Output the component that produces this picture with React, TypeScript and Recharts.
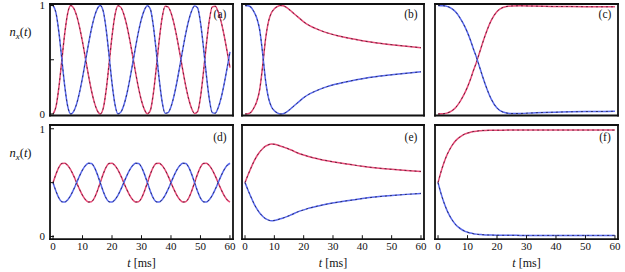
import React from 'react';
import { LineChart, Line, XAxis, YAxis } from 'recharts';

// ---- data ----
const T_OSC = [0,1,2,3,4,5,6,7,8,9,10,11,12,13,14,15,16,17,18,19,20,21,22,23,24,25,26,27,28,29,30,31,32,33,34,35,36,37,38,39,40,41,42,43,44,45,46,47,48,49,50,51,52,53,54,55,56,57,58,59,60];
const T_SMOOTH = [0,1,2,3,4,5,6,7,8,9,10,11,12,13,14,15,16,18,20,22,25,28,32,36,40,45,50,55,60];

const RED_A = [0,.067,.25,.5,.75,.933,1,.976,.907,.799,.664,.511,.359,.219,.107,.031,0,.049,.217,.461,.716,.912,.999,.983,.92,.818,.685,.535,.381,.239,.122,.04,.002,.033,.185,.422,.679,.888,.994,.988,.933,.835,.706,.558,.404,.259,.138,.05,.005,.021,.156,.383,.642,.862,.987,.993,.943,.852,.727,.581,.427];
const BLUE_A = [1,.933,.75,.5,.25,.067,0,.024,.093,.201,.336,.489,.641,.781,.893,.969,1,.951,.783,.539,.284,.088,.001,.017,.08,.182,.315,.465,.619,.761,.878,.96,.998,.967,.815,.578,.321,.112,.006,.012,.067,.165,.294,.442,.596,.741,.862,.95,.995,.979,.844,.617,.358,.138,.013,.007,.057,.148,.273,.419,.573];

const RED_B = [0,.003,.015,.055,.115,.225,.44,.69,.852,.933,.97,.99,1.0,.997,.985,.965,.942,.895,.85,.815,.778,.748,.719,.695,.675,.655,.639,.625,.611];
const BLUE_B = [1.0,.997,.985,.945,.885,.775,.56,.31,.148,.067,.03,.01,0,.003,.015,.035,.058,.105,.15,.185,.222,.252,.281,.305,.325,.345,.361,.375,.389];

const RED_C = [0,.001,.003,.008,.018,.035,.06,.095,.14,.19,.25,.32,.40,.475,.56,.645,.725,.86,.945,.982,.996,.997,.995,.993,.991,.99,.989,.988,.988];
const BLUE_C = [1.0,.999,.997,.992,.982,.965,.94,.905,.86,.81,.75,.68,.60,.525,.44,.355,.275,.14,.055,.018,.004,.005,.01,.014,.017,.02,.022,.023,.025];

const RED_D = [.5,.579,.643,.678,.68,.658,.618,.563,.5,.437,.382,.342,.32,.322,.357,.421,.5,.579,.643,.678,.68,.658,.618,.563,.5,.437,.382,.342,.32,.322,.357,.421,.5,.579,.643,.678,.68,.658,.618,.563,.5,.437,.382,.342,.32,.322,.357,.421,.5,.579,.643,.678,.68,.658,.618,.563,.5,.437,.382,.342,.32];
const BLUE_D = [.5,.421,.357,.322,.32,.342,.382,.437,.5,.563,.618,.658,.68,.678,.643,.579,.5,.421,.357,.322,.32,.342,.382,.437,.5,.563,.618,.658,.68,.678,.643,.579,.5,.421,.357,.322,.32,.342,.382,.437,.5,.563,.618,.658,.68,.678,.643,.579,.5,.421,.357,.322,.32,.342,.382,.437,.5,.563,.618,.658,.68];

const RED_E = [.5,.57,.635,.695,.745,.785,.815,.838,.852,.858,.856,.85,.84,.832,.822,.811,.80,.775,.757,.74,.72,.703,.684,.668,.652,.636,.624,.613,.604];
const BLUE_E = [.5,.432,.368,.308,.258,.218,.188,.165,.152,.147,.149,.155,.164,.172,.182,.193,.204,.229,.247,.264,.284,.301,.32,.336,.352,.368,.38,.391,.4];

const RED_F = [.5,.6,.685,.755,.81,.855,.89,.915,.935,.95,.96,.968,.974,.978,.981,.983,.985,.986,.987,.987,.988,.988,.988,.988,.988,.988,.988,.988,.988];
const BLUE_F = [.5,.4,.315,.245,.19,.145,.11,.085,.065,.05,.04,.032,.026,.022,.019,.017,.015,.013,.012,.011,.011,.01,.01,.01,.01,.01,.01,.01,.01];

const X_TICKS = [0, 10, 20, 30, 40, 50, 60];
const Y_TICKS = [0, 0.5, 1];
const TAGS = ['(a)', '(b)', '(c)', '(d)', '(e)', '(f)'];
const Y_LABEL_TICKS = ['0', '1'];

// ---- styling / layout ----
const FONT = '"Liberation Serif", "DejaVu Serif", serif';
const RED = '#e84a78';
const BLUE = '#5a6af0';
const X_DOMAIN: [number, number] = [-1.03, 61.03];
const Y_DOMAIN_TOP: [number, number] = [-0.014, 1.014];
const Y_DOMAIN_BOT: [number, number] = [-0.025, 1.035];
const COLS = [{ l: 50, w: 183 }, { l: 242, w: 182 }, { l: 435, w: 183 }];
const ROWS = [{ t: 4, h: 111.5 }, { t: 124.5, h: 114.2 }];

type Row = { t: number; r: number; b: number };
const build = (ts: number[], rs: number[], bs: number[]): Row[] =>
  ts.map((t, i) => ({ t, r: rs[i], b: bs[i] }));

const DATASETS: Row[][] = [
  build(T_OSC, RED_A, BLUE_A),
  build(T_SMOOTH, RED_B, BLUE_B),
  build(T_SMOOTH, RED_C, BLUE_C),
  build(T_OSC, RED_D, BLUE_D),
  build(T_SMOOTH, RED_E, BLUE_E),
  build(T_SMOOTH, RED_F, BLUE_F),
];

const frameLine = { stroke: '#111', strokeWidth: 1.8, strokeLinecap: 'square' as const };
const tickLine = { stroke: '#111', strokeWidth: 1 };
const tickFont = { fontFamily: FONT, fontSize: 11, fill: '#111' };

function Panel({ idx }: { idx: number }) {
  const col = COLS[idx % 3];
  const row = ROWS[Math.floor(idx / 3)];
  const showX = idx >= 3;
  const showY = idx % 3 === 0;
  const yDomain = idx < 3 ? Y_DOMAIN_TOP : Y_DOMAIN_BOT;
  const CW = col.w + 36;
  const CH = row.h + 36;
  const data = DATASETS[idx];
  const dash = { stroke: '#000', strokeWidth: 0.75, strokeDasharray: '2 3', strokeOpacity: 0.75 };
  return (
    <div style={{ position: 'absolute', left: col.l - 30, top: row.t - 6 }}>
      <LineChart width={CW} height={CH} data={data} margin={{ top: 5, right: 5, bottom: 0, left: 0 }}>
        <XAxis xAxisId="b" dataKey="t" type="number" domain={X_DOMAIN} ticks={X_TICKS} allowDataOverflow
          orientation="bottom" height={30} tickSize={-4} tickMargin={7} interval={0}
          tick={showX ? tickFont : false} axisLine={frameLine} tickLine={tickLine} />
        <XAxis xAxisId="t" dataKey="t" type="number" domain={X_DOMAIN} ticks={X_TICKS} allowDataOverflow
          orientation="top" height={1} tickSize={-4} interval={0}
          tick={false} axisLine={frameLine} tickLine={tickLine} />
        <YAxis yAxisId="l" type="number" domain={yDomain} ticks={Y_TICKS} allowDataOverflow
          orientation="left" width={30} tickSize={-4} tickMargin={9} interval={0}
          tickFormatter={(v: number) => (Y_LABEL_TICKS.includes(String(v)) ? String(v) : '')}
          tick={showY ? tickFont : false} axisLine={frameLine} tickLine={tickLine} />
        <YAxis yAxisId="r" type="number" domain={yDomain} ticks={Y_TICKS} allowDataOverflow
          orientation="right" width={1} tickSize={-4} interval={0}
          tick={false} axisLine={frameLine} tickLine={tickLine} />
        <Line xAxisId="b" yAxisId="l" type="monotone" dataKey="r" stroke={RED} strokeWidth={1.5} dot={false} activeDot={false} isAnimationActive={false} />
        <Line xAxisId="b" yAxisId="l" type="monotone" dataKey="r" {...dash} dot={false} activeDot={false} isAnimationActive={false} />
        <Line xAxisId="b" yAxisId="l" type="monotone" dataKey="b" stroke={BLUE} strokeWidth={1.5} dot={false} activeDot={false} isAnimationActive={false} />
        <Line xAxisId="b" yAxisId="l" type="monotone" dataKey="b" {...dash} dot={false} activeDot={false} isAnimationActive={false} />
      </LineChart>
    </div>
  );
}

const centered = (x: number, y: number, size: number): React.CSSProperties => ({
  position: 'absolute', left: x, top: y, transform: 'translate(-50%, -50%)',
  fontFamily: FONT, fontSize: size, lineHeight: 1, whiteSpace: 'nowrap', color: '#111',
});

function NxLabel({ y }: { y: number }) {
  return (
    <div style={centered(20.5, y, 12.5)}>
      <i>n</i>
      <span style={{ fontSize: 9, position: 'relative', top: 3 }}><i>x</i></span>
      (<i>t</i>)
    </div>
  );
}

export default function App() {
  return (
    <div style={{ position: 'absolute', left: 0, top: 0, width: 625, height: 272, background: '#fff', overflow: 'hidden' }}>
      {[0, 1, 2, 3, 4, 5].map((i) => <Panel key={i} idx={i} />)}
      {TAGS.map((tag, i) => {
        const col = COLS[i % 3];
        const y = i < 3 ? 15 : 138;
        return <div key={tag} style={centered(col.l + col.w - 13, y, 11.5)}>{tag}</div>;
      })}
      <NxLabel y={32} />
      <NxLabel y={153} />
      {COLS.map((col, i) => (
        <div key={i} style={centered(col.l + col.w / 2, 263, 12)}><i>t</i> [ms]</div>
      ))}
    </div>
  );
}
